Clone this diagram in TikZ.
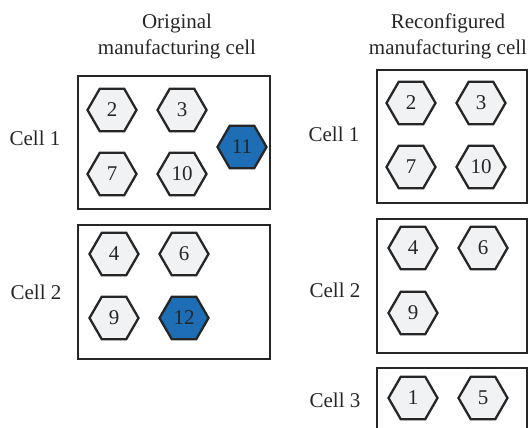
\documentclass[tikz,border=0pt]{standalone}
\usepackage{fontspec}
\setmainfont{Liberation Serif}
\usetikzlibrary{shapes.geometric}
\definecolor{hexgray}{RGB}{241,242,244}
\definecolor{hexblue}{RGB}{30,110,182}
\begin{document}
\begin{tikzpicture}[x=1pt,y=-1pt,
  machine/.style={regular polygon, regular polygon sides=6, minimum size=49pt,
    inner sep=0pt, draw=black!85, line width=2.3pt, fill=hexgray,
    font=\fontsize{21}{22}\selectfont, text=black!85},
  moved/.style={machine, fill=hexblue},
  cellbox/.style={draw=black!85, line width=2.3pt},
  lbl/.style={font=\fontsize{21}{22}\selectfont, text=black!85},
  title/.style={font=\fontsize{21}{26}\selectfont, text=black!85, align=center}]
\useasboundingbox (0,0) rectangle (530,428);
\clip (0,0) rectangle (530,428);

% headings
\node[title] (ttlA) at (177,36) {Original\\manufacturing cell};
\node[title] (ttlB) at (448,36) {Reconfigured\\manufacturing cell};

% original layout
\draw[cellbox] (78,76) rectangle (270,209);
\draw[cellbox] (78,225) rectangle (270,359);
\node[lbl] (oc1) at (35,138) {Cell 1};
\node[lbl] (oc2) at (36,292) {Cell 2};
\node[machine] (o2)  at (112,110) {2};
\node[machine] (o3)  at (182,110) {3};
\node[moved]   (o11) at (242,147) {11};
\node[machine] (o7)  at (112,174) {7};
\node[machine] (o10) at (182,174) {10};
\node[machine] (o4)  at (114,254) {4};
\node[machine] (o6)  at (184,254) {6};
\node[machine] (o9)  at (114,318) {9};
\node[moved]   (o12) at (184,318) {12};

% reconfigured layout
\draw[cellbox] (377,70) rectangle (527,203);
\draw[cellbox] (377,219) rectangle (527,353);
\draw[cellbox] (377,440) -- (377,368) -- (527,368) -- (527,440);
\node[lbl] (rc1) at (334,134) {Cell 1};
\node[lbl] (rc2) at (335,290) {Cell 2};
\node[lbl] (rc3) at (335,400) {Cell 3};
\node[machine] (r2)  at (411,103) {2};
\node[machine] (r3)  at (481,103) {3};
\node[machine] (r7)  at (411,167) {7};
\node[machine] (r10) at (481,167) {10};
\node[machine] (r4)  at (413,248) {4};
\node[machine] (r6)  at (483,248) {6};
\node[machine] (r9)  at (413,313) {9};
\node[machine] (r1)  at (413,398) {1};
\node[machine] (r5)  at (483,398) {5};
\end{tikzpicture}
\end{document}
